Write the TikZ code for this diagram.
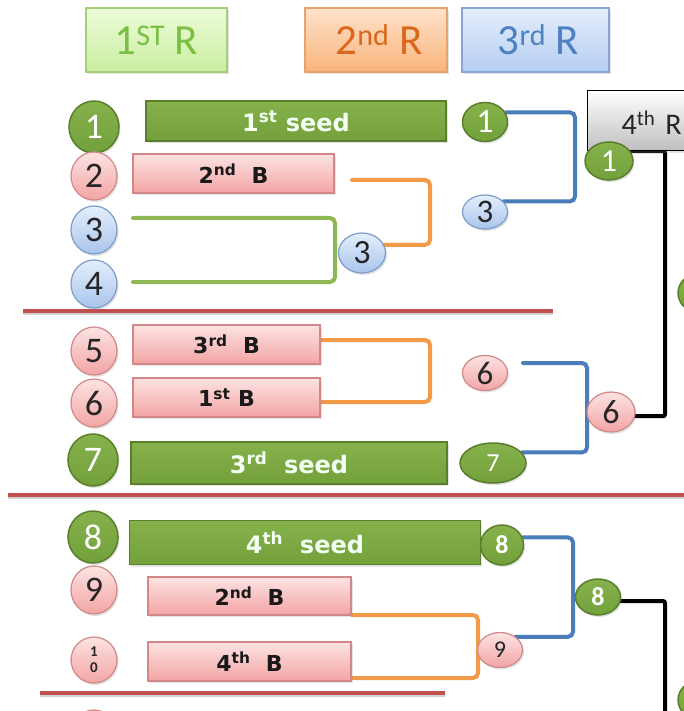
\documentclass[tikz,border=0pt]{standalone}
\usepackage{fontspec}
\setmainfont{Carlito}
\newfontfamily\barfont{DejaVu Sans}
\usetikzlibrary{shapes.geometric,shadows}
\pgfdeclarelayer{bg}
\pgfsetlayers{bg,main}
\definecolor{sgreen}{HTML}{72A03A}
\definecolor{sgreenT}{HTML}{86B24C}
\definecolor{sgreenD}{HTML}{5A7E2C}
\definecolor{pinkT}{HTML}{FDE3E3}
\definecolor{pinkB}{HTML}{F3A4A4}
\definecolor{pinkD}{HTML}{D08888}
\definecolor{blueT}{HTML}{E4EEFB}
\definecolor{blueB}{HTML}{A9C5EC}
\definecolor{blueD}{HTML}{7C9CCB}
\definecolor{lblue}{HTML}{4A7EBB}
\definecolor{lorange}{HTML}{F39A48}
\definecolor{lgreen}{HTML}{8DB852}
\definecolor{sepred}{HTML}{C0504D}
\definecolor{hAT}{HTML}{EEFCDA}\definecolor{hAB}{HTML}{C9EE9F}\definecolor{hAD}{HTML}{A6CF7C}\definecolor{hAX}{HTML}{7CBF45}
\definecolor{hBT}{HTML}{FDE2CA}\definecolor{hBB}{HTML}{F9B47C}\definecolor{hBD}{HTML}{E9A36C}\definecolor{hBX}{HTML}{D9681C}
\definecolor{hCT}{HTML}{E4EEFB}\definecolor{hCB}{HTML}{B5CEF1}\definecolor{hCD}{HTML}{86A6D6}\definecolor{hCX}{HTML}{4E80C2}
\tikzset{
  shad/.style={drop shadow={opacity=0.22,shadow xshift=1.5pt,shadow yshift=-2pt}},
  fnt/.style={font=\fontsize{#1}{#1}\selectfont},
  fntb/.style={font=\fontsize{#1}{#1}\selectfont\bfseries},
  barfnt/.style={font=\barfont\bfseries\fontsize{#1}{#1}\selectfont},
  sz/.style 2 args={minimum width=#1,minimum height=#2},
  hbox/.style={shad,rectangle,inner sep=0,line width=1.2pt,minimum height=64,fnt=43},
  gcirc/.style={shad,ellipse,inner sep=0,line width=1.5pt,draw=sgreenD,top color=sgreenT,bottom color=sgreen,text=white},
  pcirc/.style={shad,ellipse,inner sep=0,line width=1.2pt,draw=pinkD,top color=pinkT,bottom color=pinkB,text=black!85},
  bcirc/.style={shad,ellipse,inner sep=0,line width=1.2pt,draw=blueD,top color=blueT,bottom color=blueB,text=black!85},
  seedbar/.style={shad,rectangle,inner sep=0,line width=1.5pt,draw=sgreenD,top color=sgreenT,bottom color=sgreen,text=white!95!green,barfnt=24},
  pinkbar/.style={shad,rectangle,inner sep=0,line width=1.2pt,draw=pinkD,top color=pinkT,bottom color=pinkB,text=black!90,barfnt=22},
  conn/.style={line width=4pt,rounded corners=5pt,line cap=round},
  gline/.style={conn,draw=lgreen},
  oline/.style={conn,draw=lorange},
  bline/.style={conn,draw=lblue},
  kline/.style={conn,draw=black,rounded corners=2pt},
  sepline/.style={draw=sepred,line width=3.5pt,preaction={draw=black!18,line width=3.5pt,transform canvas={yshift=-2.5pt}}}
}
\begin{document}
\begin{tikzpicture}[x=1pt,y=-1pt]
\useasboundingbox (0,0) rectangle (684,711);
\begin{pgfonlayer}{bg}
\fill[white] (0,0) rectangle (684,711);
\end{pgfonlayer}

% headers
\node[hbox,minimum width=141,top color=hAT,bottom color=hAB,draw=hAD,text=hAX] (h1) at (156.5,40) {1\textsuperscript{ST} R\hspace{12pt}};
\node[hbox,minimum width=142,top color=hBT,bottom color=hBB,draw=hBD,text=hBX] (h2) at (376,40) {\hspace{6pt}2\textsuperscript{nd} R};
\node[hbox,minimum width=147,top color=hCT,bottom color=hCB,draw=hCD,text=hCX] (h3) at (535.5,40) {\hspace{6pt}3\textsuperscript{rd} R};
\node[shad,rectangle,anchor=north west,line width=1.3pt,draw=black,top color=white,bottom color=black!25,
      text width=100,align=left,inner xsep=34,inner ysep=0,text height=27,text depth=0,minimum height=60,fnt=30,text=black!85] (h4) at (587,90) {4\textsuperscript{th} R};

% first-round circles
\node[gcirc,sz={50}{52},fnt=36] (n1) at (94,127) {1};
\node[pcirc,sz={46}{48},fnt=36] (n2) at (94,176) {2};
\node[bcirc,sz={46}{48},fnt=36] (n3) at (94,230) {3};
\node[bcirc,sz={46}{48},fnt=36] (n4) at (94,284) {4};
\node[pcirc,sz={46}{48},fnt=36] (n5) at (94,351) {5};
\node[pcirc,sz={46}{48},fnt=36] (n6) at (94,403) {6};
\node[gcirc,sz={50}{52},fnt=36] (n7) at (93,460) {7};
\node[gcirc,sz={50}{52},fnt=36] (n8) at (93,537) {8};
\node[pcirc,sz={46}{48},fnt=36] (n9) at (94,590) {9};
\node[pcirc,sz={46}{46},fntb=15,align=center] (n10) at (94,660) {1\\[1pt]0};
\node[pcirc,sz={46}{46}] (n11) at (94,733) {};

% bars
\node[seedbar,sz={300}{40}] (s1) at (296,121) {1\textsuperscript{st} seed};
\node[pinkbar,sz={201}{39}] (b2) at (233.5,173.5) {2\textsuperscript{nd}\hspace{0.7em}B};
\node[pinkbar,sz={187}{39}] (b5) at (226.5,344.5) {3\textsuperscript{rd}\hspace{0.7em}B};
\node[pinkbar,sz={187}{39}] (b6) at (226.5,397.5) {1\textsuperscript{st} B};
\node[seedbar,sz={316}{42}] (s7) at (289,463) {3\textsuperscript{rd}\hspace{0.7em}seed};
\node[seedbar,sz={351}{44}] (s8) at (305,542.5) {4\textsuperscript{th}\hspace{0.7em}seed};
\node[pinkbar,sz={203}{38}] (b9) at (249.5,596) {2\textsuperscript{nd}\hspace{0.7em}B};
\node[pinkbar,sz={203}{39}] (b10) at (249.5,661.5) {4\textsuperscript{th}\hspace{0.7em}B};

% later-round circles
\node[bcirc,sz={47}{40},fnt=34] (r3) at (362,253) {3};
\node[gcirc,sz={45}{39},fnt=34] (q1) at (485,122) {1};
\node[bcirc,sz={45}{34},fnt=33] (q3) at (485,212) {3};
\node[pcirc,sz={45}{35},fnt=33] (q6) at (485,373) {6};
\node[gcirc,sz={66}{40},fnt=26] (q7) at (493,463) {7};
\node[gcirc,sz={43}{40},fntb=26] (q8) at (502,545) {8};
\node[pcirc,sz={45}{35},fnt=24] (q9) at (500,650) {9};
\node[gcirc,sz={48}{38},fnt=32] (c41) at (609,161) {1};
\node[pcirc,sz={48}{40},fnt=34] (c6r) at (611,412) {6};
\node[gcirc,sz={45}{36},fntb=26] (c8r) at (598,597) {8};
\node[gcirc,sz={44}{40}] (e1) at (700,293) {};
\node[gcirc,sz={44}{40}] (e2) at (700,700) {};

% helper coordinates
\coordinate (gA) at (133,218);
\coordinate (gB) at (133,282);
\coordinate (gx) at (335,0);
\coordinate (oA) at (352,180);
\coordinate (ox1) at (430,0);
\coordinate (oC) at (321,340);
\coordinate (oD) at (321,402);
\coordinate (ox2) at (430,0);
\coordinate (oE) at (352,615);
\coordinate (oF) at (352,678);
\coordinate (ox3) at (478,0);
\coordinate (bA) at (523,363);
\coordinate (bx1) at (575,0);
\coordinate (bx2) at (587,0);
\coordinate (bx3) at (573,0);
\coordinate (kx) at (665,0);
\coordinate (kb) at (665,725);

\begin{pgfonlayer}{bg}
\draw[gline] (gA) -| (gx |- r3.center) |- (gB);
\draw[oline] (oA) -| (ox1 |- r3.20) -- (r3.20);
\draw[bline] (q1.25) -| (bx1 |- q3.30) -- (q3.30);
\draw[kline] (c41.25) -| (kx |- c6r.-10) -- (c6r.-10);
\draw[oline] (oC) -| (ox2 |- oD) -- (oD);
\draw[bline] (bA) -| (bx2 |- q7.20) -- (q7.20);
\draw[bline] (q8.20) -| (bx3 |- q9.40) -- (q9.40);
\draw[kline] (c8r.-10) -| (kb);
\draw[oline] (oE) -| (ox3 |- oF) -- (oF);
\end{pgfonlayer}

% separators
\draw[sepline] (23,311) -- (553,311);
\draw[sepline] (8,495) -- (690,495);
\draw[sepline] (40,693) -- (445,693);
\end{tikzpicture}
\end{document}
